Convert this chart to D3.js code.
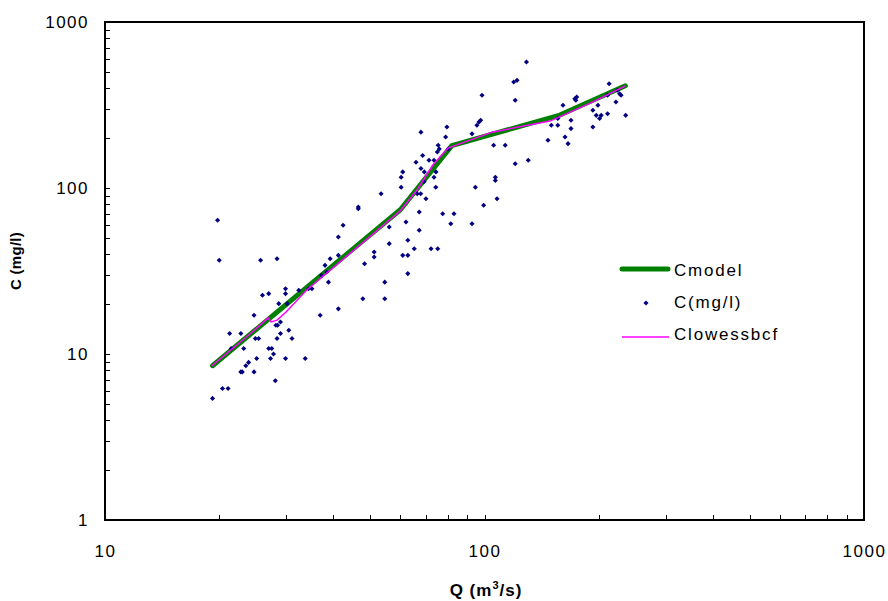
<!DOCTYPE html>
<html lang="en">
    <head>
        <meta charset="utf-8">
        <title>C vs Q</title>
        <script src="https://d3js.org/d3.v7.min.js"></script>
        <style type="text/css">
            body { margin: 0; background: #fff; }
            text { font-family: "Liberation Sans", Arial, sans-serif; fill: #000; }
            .tick text { font-size: 17px; letter-spacing: 1.5px; }
            .legend text { font-size: 17px; letter-spacing: 1.8px; }
            .title { font-weight: bold; }
        </style>
    </head>
    <body>
        <script type="text/javascript">

            //observed samples: discharge Q (m3/s) and concentration C (mg/l)
            const obsQ = [19.8, 20.0, 25.7, 28.4, 42.4, 41.2, 39.2, 38.0, 37.2, 38.4,
                          38.8, 41.2, 41.2, 36.9, 34.4, 35.1, 32.4, 29.9, 29.9, 30.2,
                          28.7, 27.0, 26.0, 24.7, 28.2, 28.5, 29.0, 30.5, 31.1, 29.0,
                          28.4, 27.0, 27.5, 27.8, 27.3, 29.9, 33.7, 25.1, 24.9, 25.4,
                          22.8, 21.3, 23.2, 21.5, 23.9, 23.5, 24.7, 22.8, 23.0, 28.1,
                          20.4, 21.1, 19.2,
                          68.0, 79.6, 79.0, 75.5, 76.0, 75.1, 80.3, 95.5, 96.7, 97.7,
                          92.7, 105.7, 68.7, 66.0, 71.4, 73.6, 68.0, 69.4, 74.5, 60.9,
                          60.3, 69.3, 73.6, 60.3, 74.4, 94.6, 106.8, 106.8, 107.9, 99.5,
                          66.5, 67.9, 70.1, 53.4, 67.3, 77.6, 83.1, 81.5, 92.7, 62.1,
                          46.5, 46.5, 56.1, 67.3, 56.1, 62.8, 65.3, 72.3, 75.3, 51.2,
                          51.2, 60.9, 62.8, 48.3, 62.8, 54.6, 47.8, 54.6,
                          129, 119.4, 121.8, 98.5, 120.5, 113.4, 120.5, 130.4, 213, 211,
                          224, 227, 229, 222, 235.5, 161, 173, 175, 174, 199,
                          193, 197, 201, 203, 211, 193, 169, 169, 156, 156,
                          150, 147, 163, 166];
            const obsC = [63.9, 36.7, 36.7, 37.5, 59.6, 50.7, 37.5, 34.2, 29.8, 31.2,
                          27.1, 39.3, 18.7, 17.1, 24.7, 24.7, 24.2, 24.7, 23.1, 20.1,
                          20.1, 23.1, 22.6, 17.1, 14.9, 14.9, 15.6, 13.9, 12.4, 13.3,
                          12.4, 10.8, 10.8, 10.0, 9.4, 9.4, 9.4, 9.4, 12.4, 12.4,
                          13.3, 13.3, 10.8, 10.8, 8.9, 8.5, 7.8, 7.8, 7.8, 6.9,
                          6.2, 6.2, 5.4,
                          217, 233, 203, 181, 172, 165, 172, 239, 250, 256,
                          212, 181, 157, 143, 147, 147, 131, 125, 125, 125,
                          116, 109, 116, 101, 101, 101, 116, 111, 86.2, 78.7,
                          92.4, 92.4, 86.2, 92.4, 71.7, 70.0, 70.0, 60.9, 60.9, 62.4,
                          76.8, 75.0, 58.2, 55.6, 46.2, 48.4, 43.1, 43.1, 43.1, 41.2,
                          38.4, 39.3, 39.3, 35.0, 30.5, 27.1, 21.5, 21.5,
                          574, 435, 445, 362, 338, 181, 140, 147, 425, 362,
                          388, 370, 362, 330, 274, 315, 345, 353, 338, 315,
                          294, 274, 262, 274, 280, 233, 256, 228, 262, 239,
                          239, 194, 203, 185];

            //piecewise model
            const modelQ = [19.2, 60, 82, 158, 235];
            const modelC = [8.5, 74, 180, 275, 413];

            //lowess with bias correction
            const lowessQ = [19.1, 24.1, 26.9, 27.4, 28.4, 30.0, 34.0, 59.9, 66.4, 73.1,
                             80.1, 104.7, 148.8, 193, 234.6];
            const lowessC = [8.47, 13.2, 16.5, 15.6, 16.0, 17.9, 24.3, 72.7, 97.3, 137.6,
                             174, 217, 253, 330, 411];

            const xMajor = [10, 100, 1000];
            const yMajor = [1, 10, 100, 1000];

            const seriesNames = ["Cmodel", "C(mg/l)", "Clowessbcf"];

            const w = 888;
            const h = 601;
            const mLeft = 105, mRight = 864, mTop = 22, mBottom = 520;

            const svg = d3.select("body")
                    .append("svg")
                    .attr("width", w)
                    .attr("height", h);

            const x = d3.scaleLog().domain([10, 1000]).range([mLeft, mRight]);
            const y = d3.scaleLog().domain([1, 1000]).range([mBottom, mTop]);

            //minor + major ticks, labels only on powers of ten
            const xTicks = [];
            for (let d = 10; d < 1000; d *= 10) for (let k = 1; k < 10; k++) xTicks.push(d * k);
            xTicks.push(1000);
            const yTicks = [];
            for (let d = 1; d < 1000; d *= 10) for (let k = 1; k < 10; k++) yTicks.push(d * k);
            yTicks.push(1000);

            const xAxis = d3.axisBottom(x)
                    .tickValues(xTicks)
                    .tickSizeInner(-5)
                    .tickSizeOuter(0)
                    .tickPadding(25)
                    .tickFormat(d => xMajor.includes(d) ? d : "");
            const yAxis = d3.axisLeft(y)
                    .tickValues(yTicks)
                    .tickSizeInner(-5)
                    .tickSizeOuter(0)
                    .tickPadding(16)
                    .tickFormat(d => yMajor.includes(d) ? d : "");

            const gx = svg.append("g")
                    .attr("transform", "translate(0," + mBottom + ")")
                    .call(xAxis);
            const gy = svg.append("g")
                    .attr("transform", "translate(" + mLeft + ",0)")
                    .call(yAxis);
            [gx, gy].forEach(g => {
                g.select(".domain").remove();
                g.selectAll("line").attr("stroke", "#000").attr("shape-rendering", "crispEdges");
                g.attr("font-family", null).attr("font-size", null);
            });

            //plot area frame
            svg.append("rect")
                .attr("x", mLeft)
                .attr("y", mTop)
                .attr("width", mRight - mLeft)
                .attr("height", mBottom - mTop)
                .attr("fill", "none")
                .attr("stroke", "#000")
                .attr("stroke-width", 2);

            const line = d3.line()
                    .x(d => x(d[0]))
                    .y(d => y(d[1]));

            //Cmodel
            svg.append("path")
                .datum(d3.zip(modelQ, modelC))
                .attr("d", line)
                .attr("fill", "none")
                .attr("stroke", "#008000")
                .attr("stroke-width", 5)
                .attr("stroke-linejoin", "round")
                .attr("stroke-linecap", "round");

            //observed points
            const marker = d3.symbol().type(d3.symbolSquare).size(13);
            svg.append("g")
                .selectAll("path")
                .data(d3.zip(obsQ, obsC))
                .enter()
                .append("path")
                .attr("d", marker)
                .attr("transform", d => "translate(" + x(d[0]) + "," + y(d[1]) + ") rotate(45)")
                .attr("fill", "#000080");

            //Clowessbcf
            svg.append("path")
                .datum(d3.zip(lowessQ, lowessC))
                .attr("d", line)
                .attr("fill", "none")
                .attr("stroke", "#FF00FF")
                .attr("stroke-width", 1.5);

            //Legend
            const legend = svg.append("g").attr("class", "legend");
            legend.append("line")
                .attr("x1", 622).attr("x2", 668)
                .attr("y1", 269).attr("y2", 269)
                .attr("stroke", "#008000")
                .attr("stroke-width", 5)
                .attr("stroke-linecap", "round");
            legend.append("path")
                .attr("d", marker)
                .attr("transform", "translate(646,303) rotate(45)")
                .attr("fill", "#000080");
            legend.append("line")
                .attr("x1", 622).attr("x2", 669)
                .attr("y1", 337).attr("y2", 337)
                .attr("stroke", "#FF00FF")
                .attr("stroke-width", 1.5);
            legend.selectAll("text")
                .data(seriesNames)
                .enter()
                .append("text")
                .attr("x", 674)
                .attr("y", (d, i) => [276, 308, 340][i])
                .text(d => d);

            //axis titles
            svg.append("text")
                .attr("class", "title")
                .attr("transform", "translate(21,261) rotate(-90)")
                .attr("text-anchor", "middle")
                .attr("font-size", 15)
                .attr("letter-spacing", 0.3)
                .text("C (mg/l)");

            const xt = svg.append("text")
                .attr("class", "title")
                .attr("x", 486)
                .attr("y", 596)
                .attr("text-anchor", "middle")
                .attr("font-size", 17)
                .attr("letter-spacing", 1);
            xt.append("tspan").text("Q (m");
            xt.append("tspan").attr("font-size", 11).attr("dy", -7).text("3");
            xt.append("tspan").attr("dy", 7).text("/s)");

        </script>
    </body>
</html>
